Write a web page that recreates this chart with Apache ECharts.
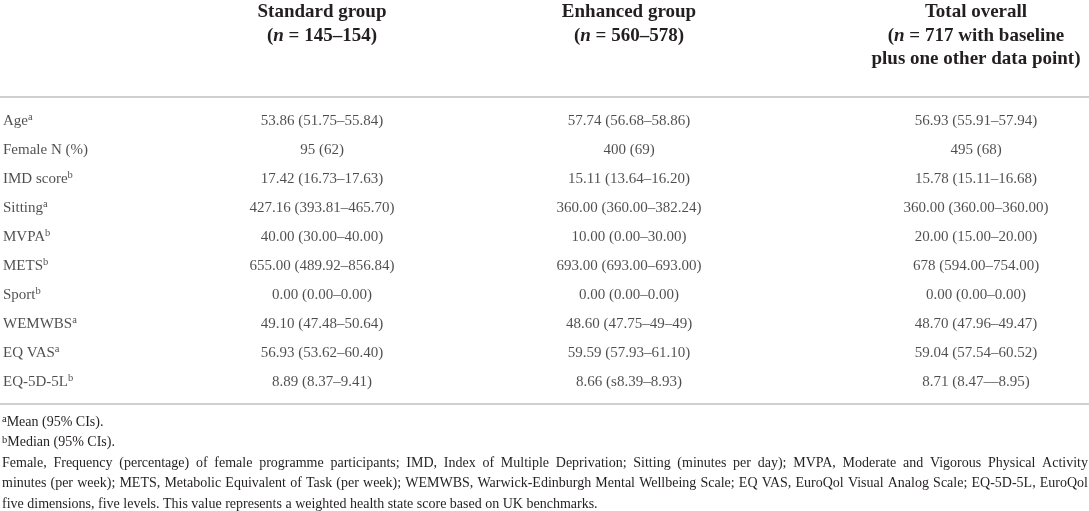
<!DOCTYPE html>
<html>
<head>
<meta charset="utf-8">
<title>Baseline characteristics</title>
<script src="https://cdn.jsdelivr.net/npm/echarts@6/dist/echarts.min.js"></script>
<style>
	html, body { margin: 0; padding: 0; background: #fff; }
	#main { width: 1089px; height: 511px; }
</style>
</head>
<body>
<div id="main"></div>
<script type="text/javascript">
	// 表格数据
	var rowLabels = ['Age', 'Female N (%)', 'IMD score', 'Sitting', 'MVPA', 'METS', 'Sport', 'WEMWBS', 'EQ VAS', 'EQ-5D-5L'];
	var rowNotes = ['a', '', 'b', 'a', 'b', 'b', 'b', 'a', 'a', 'b'];

	var standardValues = ['53.86 (51.75–55.84)', '95 (62)', '17.42 (16.73–17.63)', '427.16 (393.81–465.70)', '40.00 (30.00–40.00)',
		'655.00 (489.92–856.84)', '0.00 (0.00–0.00)', '49.10 (47.48–50.64)', '56.93 (53.62–60.40)', '8.89 (8.37–9.41)'];
	var enhancedValues = ['57.74 (56.68–58.86)', '400 (69)', '15.11 (13.64–16.20)', '360.00 (360.00–382.24)', '10.00 (0.00–30.00)',
		'693.00 (693.00–693.00)', '0.00 (0.00–0.00)', '48.60 (47.75–49–49)', '59.59 (57.93–61.10)', '8.66 (s8.39–8.93)'];
	var totalValues = ['56.93 (55.91–57.94)', '495 (68)', '15.78 (15.11–16.68)', '360.00 (360.00–360.00)', '20.00 (15.00–20.00)',
		'678 (594.00–754.00)', '0.00 (0.00–0.00)', '48.70 (47.96–49.47)', '59.04 (57.54–60.52)', '8.71 (8.47—8.95)'];

	// 表头
	var columnTitles = ['Standard group', 'Enhanced group', 'Total overall'];
	var columnN = ['145–154', '560–578', '717 with baseline'];
	var columnExtra = ['', '', 'plus one other data point)'];

	// 脚注
	var noteA = 'Mean (95% CIs).';
	var noteB = 'Median (95% CIs).';
	var abbrevLines = [
		'Female, Frequency (percentage) of female programme participants; IMD, Index of Multiple Deprivation; Sitting (minutes per day); MVPA, Moderate and Vigorous Physical Activity',
		'minutes (per week); METS, Metabolic Equivalent of Task (per week); WEMWBS, Warwick-Edinburgh Mental Wellbeing Scale; EQ VAS, EuroQol Visual Analog Scale; EQ-5D-5L, EuroQol',
		'five dimensions, five levels. This value represents a weighted health state score based on UK benchmarks.'
	];

	var columns = [standardValues, enhancedValues, totalValues];

	// 版式
	var TEXT = '#231f20';
	var FONT = 'Liberation Serif';
	var RULE = '#d0d0d0';
	var colCenters = [322, 629, 976];
	var colW = 240;
	var rowTop = 106.5, rowH = 29;
	var headTop = 0.5;
	var noteLeft = 2, noteRight = 1088, noteSize = 14;

	var headRich = {
		b: { fontFamily: FONT, fontSize: 19, fontWeight: 'bold', lineHeight: 23.5, color: TEXT },
		bi: { fontFamily: FONT, fontSize: 19, fontWeight: 'bold', fontStyle: 'italic', lineHeight: 23.5, color: TEXT }
	};
	var cellRich = {
		t: { fontFamily: FONT, fontSize: 15, lineHeight: 18, color: TEXT },
		s: { fontFamily: FONT, fontSize: 10.5, lineHeight: 10, verticalAlign: 'top', color: TEXT }
	};

	function headText(k) {
		var s = '{b|' + columnTitles[k] + '}\n{b|(}{bi|n}{b| = ' + columnN[k] + (columnExtra[k] ? '' : ')') + '}';
		if (columnExtra[k]) s += '\n{b|' + columnExtra[k] + '}';
		return s;
	}

	var grids = [{ left: 3, top: rowTop, width: 200, height: rowH * rowLabels.length, outerBoundsMode: 'none' }];
	var xAxes = [{ gridIndex: 0, type: 'value', min: 0, max: 1, show: false }];
	var yAxes = [];
	var series = [];

	for (var g = 0; g < 4; g++) {
		yAxes.push({ gridIndex: g, type: 'category', data: rowLabels, inverse: true, show: false });
	}

	// 第一列：指标名称
	series.push({
		type: 'scatter', xAxisIndex: 0, yAxisIndex: 0, symbolSize: 0, silent: true,
		data: rowLabels.map(function (r, i) { return [0, i]; }),
		label: {
			show: true, position: 'right', distance: 0,
			formatter: function (p) {
				var i = p.dataIndex;
				return '{t|' + rowLabels[i] + '}' + (rowNotes[i] ? '{s|' + rowNotes[i] + '}' : '');
			},
			rich: cellRich
		}
	});

	// 三个数据列
	for (var k = 0; k < 3; k++) {
		grids.push({ left: colCenters[k] - colW / 2, top: rowTop, width: colW, height: rowH * rowLabels.length, outerBoundsMode: 'none' });
		xAxes.push({
			gridIndex: k + 1, type: 'category', data: [columnTitles[k]], position: 'top',
			axisLine: { show: false }, axisTick: { show: false }, splitLine: { show: false },
			axisLabel: {
				show: true, interval: 0, margin: rowTop - headTop, verticalAlign: 'top', align: 'center',
				formatter: (function (idx) { return function () { return headText(idx); }; })(k),
				rich: headRich
			}
		});
		series.push({
			type: 'scatter', xAxisIndex: k + 1, yAxisIndex: k + 1, symbolSize: 0, silent: true,
			data: columns[k].map(function (v, i) { return [0, i]; }),
			label: {
				show: true, position: 'inside',
				formatter: (function (vals) { return function (p) { return '{t|' + vals[p.dataIndex] + '}'; }; })(columns[k]),
				rich: cellRich
			}
		});
	}

	// 两端对齐的脚注
	var ctx = document.createElement('canvas').getContext('2d');
	ctx.font = noteSize + 'px "' + FONT + '"';
	function noteStyle(text) {
		return { text: text, fontFamily: FONT, fontSize: noteSize, fill: TEXT, verticalAlign: 'middle' };
	}
	function justifyLine(line, y, last) {
		if (last) return [{ type: 'text', x: noteLeft, y: y, silent: true, style: noteStyle(line) }];
		var words = line.split(' ');
		var widths = words.map(function (w) { return ctx.measureText(w).width; });
		var sum = widths.reduce(function (a, b) { return a + b; }, 0);
		var gap = (noteRight - noteLeft - sum) / (words.length - 1);
		var out = [], x = noteLeft;
		for (var i = 0; i < words.length; i++) {
			out.push({ type: 'text', x: x, y: y, silent: true, style: noteStyle(words[i]) });
			x += widths[i] + gap;
		}
		return out;
	}

	var noteRich = {
		s: { fontFamily: FONT, fontSize: 10.5, lineHeight: 10, verticalAlign: 'top', fill: TEXT, color: TEXT },
		t: { fontFamily: FONT, fontSize: noteSize, lineHeight: 16, fill: TEXT, color: TEXT }
	};
	var noteY = [422, 442.6, 463.2, 483.8, 504.4];

	var graphics = [
		{ type: 'line', silent: true, shape: { x1: 0, y1: 97, x2: 1089, y2: 97 }, style: { stroke: RULE, lineWidth: 2 } },
		{ type: 'line', silent: true, shape: { x1: 0, y1: 404, x2: 1089, y2: 404 }, style: { stroke: RULE, lineWidth: 2 } },
		{ type: 'text', x: noteLeft, y: noteY[0], silent: true, style: { text: '{s|a}{t|' + noteA + '}', rich: noteRich, verticalAlign: 'middle' } },
		{ type: 'text', x: noteLeft, y: noteY[1], silent: true, style: { text: '{s|b}{t|' + noteB + '}', rich: noteRich, verticalAlign: 'middle' } }
	];
	abbrevLines.forEach(function (line, i) {
		graphics = graphics.concat(justifyLine(line, noteY[2 + i], i === abbrevLines.length - 1));
	});

	var myChart = echarts.init(document.getElementById('main'));
	var option = {
		backgroundColor: '#fff',
		animation: false,
		grid: grids,
		xAxis: xAxes,
		yAxis: yAxes,
		series: series,
		graphic: graphics
	};
	myChart.setOption(option);
</script>
</body>
</html>
